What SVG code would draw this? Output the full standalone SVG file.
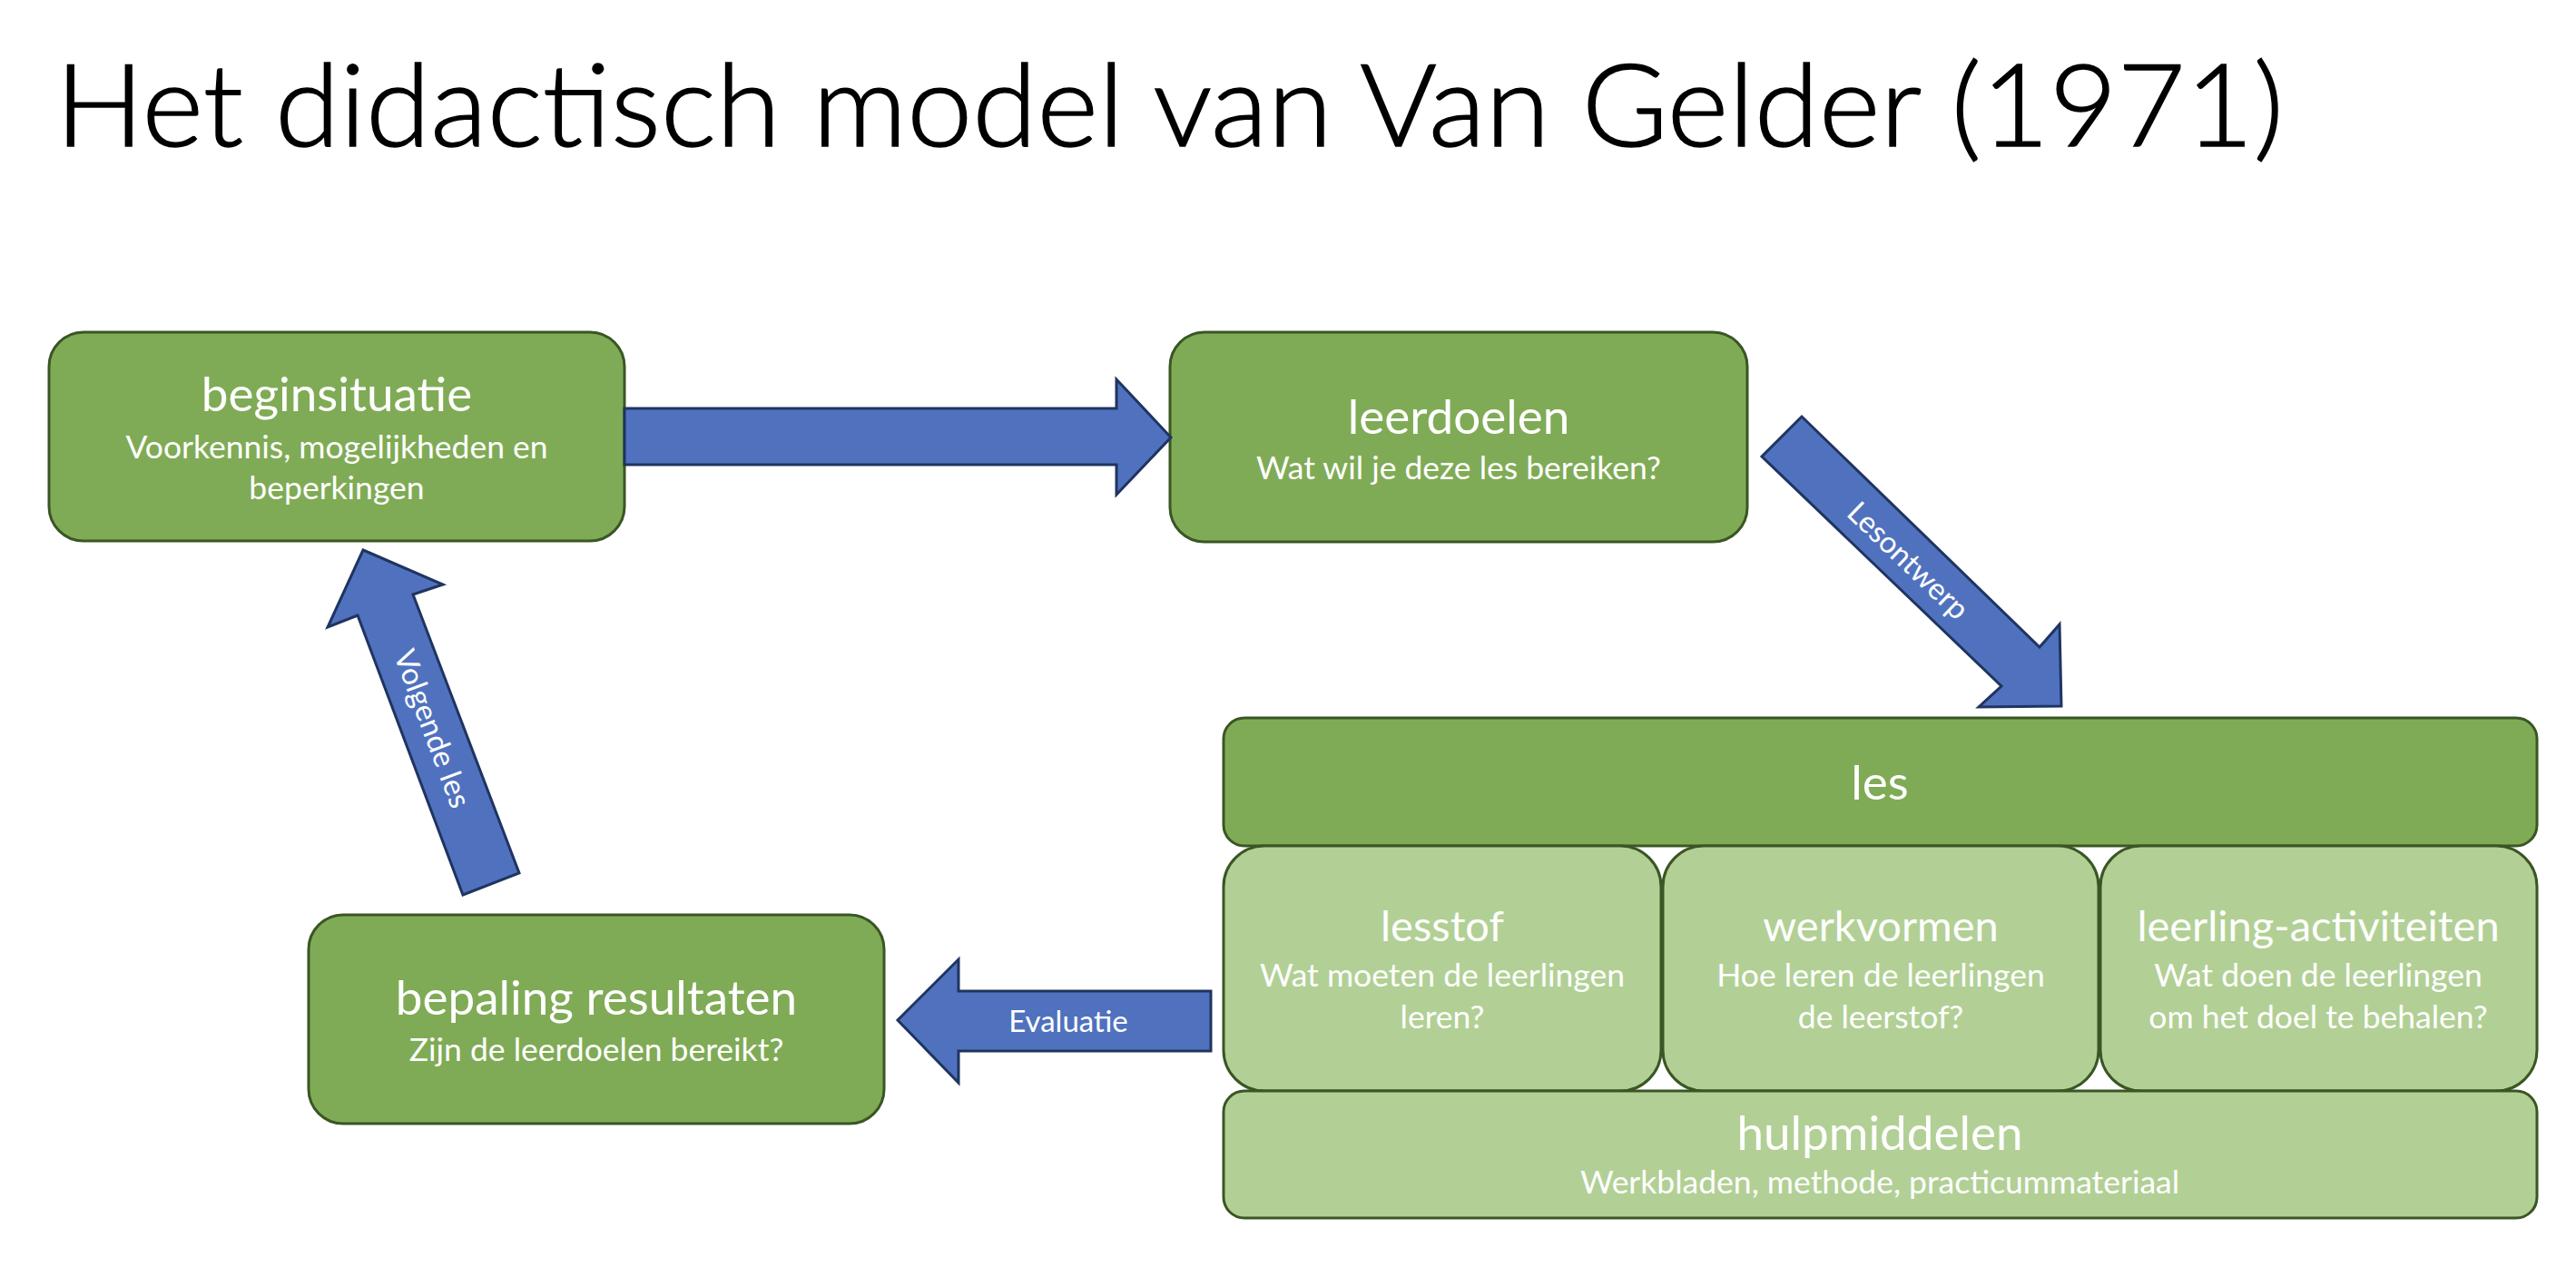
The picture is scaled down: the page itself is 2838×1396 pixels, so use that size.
<svg xmlns="http://www.w3.org/2000/svg" width="2838" height="1396" viewBox="0 0 2838 1396">
<style>
.dark{fill:#80AB56;stroke:#3A5624;stroke-width:3}
.light{fill:#B2D095;stroke:#3A5624;stroke-width:3}
.arrow{fill:#5072BE;stroke:#1F3460;stroke-width:3;stroke-linejoin:miter}
text{font-family:Lato,"Open Sans","Liberation Sans",sans-serif;fill:#FFFFFF;text-anchor:middle}
.title{fill:#000000;stroke:#000000;stroke-width:1.5;font-weight:300;font-size:126px;text-anchor:start}
.h1{font-size:53px}
.h2{font-size:47px}
.sub{font-size:35.5px}
.lbl{font-size:33px}
</style>
<rect width="2838" height="1396" fill="#FFFFFF"/>
<text class="title" x="61" y="161" textLength="2455" lengthAdjust="spacingAndGlyphs">Het didactisch model van Van Gelder (1971)</text>

<g id="beginsituatie">
<rect class="dark" x="54" y="366" width="634" height="230" rx="38" ry="38"/>
<text class="h1" x="371" y="453">beginsituatie</text>
<text class="sub" x="371" y="505">Voorkennis, mogelijkheden en</text>
<text class="sub" x="371" y="550">beperkingen</text>
</g>

<g id="leerdoelen">
<rect class="dark" x="1289" y="366" width="636" height="231" rx="38" ry="38"/>
<text class="h1" x="1607" y="478">leerdoelen</text>
<text class="sub" x="1607" y="528">Wat wil je deze les bereiken?</text>
</g>

<g id="bepaling-resultaten">
<rect class="dark" x="340" y="1008" width="634" height="230" rx="38" ry="38"/>
<text class="h1" x="657" y="1118">bepaling resultaten</text>
<text class="sub" x="657" y="1169">Zijn de leerdoelen bereikt?</text>
</g>

<g id="les">
<rect class="dark" x="1348" y="791" width="1447" height="141" rx="23" ry="23"/>
<text class="h1" x="2071" y="881">les</text>
</g>

<g id="lesstof">
<rect class="light" x="1348" y="932" width="482" height="270" rx="45" ry="45"/>
<text class="h2" x="1589" y="1037">lesstof</text>
<text class="sub" x="1589" y="1087">Wat moeten de leerlingen</text>
<text class="sub" x="1589" y="1133">leren?</text>
</g>

<g id="werkvormen">
<rect class="light" x="1832" y="932" width="480" height="270" rx="45" ry="45"/>
<text class="h2" x="2072" y="1037">werkvormen</text>
<text class="sub" x="2072" y="1087">Hoe leren de leerlingen</text>
<text class="sub" x="2072" y="1133">de leerstof?</text>
</g>

<g id="leerling-activiteiten">
<rect class="light" x="2314" y="932" width="481" height="270" rx="45" ry="45"/>
<text class="h2" x="2554" y="1037">leerling-activiteiten</text>
<text class="sub" x="2554" y="1087">Wat doen de leerlingen</text>
<text class="sub" x="2554" y="1133">om het doel te behalen?</text>
</g>

<g id="hulpmiddelen">
<rect class="light" x="1348" y="1202" width="1447" height="140" rx="23" ry="23"/>
<text class="h1" x="2071" y="1267">hulpmiddelen</text>
<text class="sub" x="2071" y="1315">Werkbladen, methode, practicummateriaal</text>
</g>

<g id="connectors">
<g id="arrow-begin-leerdoelen">
<polygon class="arrow" points="688,450 1230,450 1230,418 1290,482 1230,545 1230,512 688,512"/>
</g>
<g id="arrow-lesontwerp">
<polygon class="arrow" points="1985,459 2247,713 2269,688 2271,778 2180,779 2205,756 1941,503"/>
<text class="lbl" transform="translate(2102,618) rotate(43.8)" y="11">Lesontwerp</text>
</g>
<g id="arrow-evaluatie">
<polygon class="arrow" points="1334,1092 1056,1092 1056,1057 989,1124 1056,1193 1056,1158 1334,1158"/>
<text class="lbl" x="1177" y="1137">Evaluatie</text>
</g>
<g id="arrow-volgende-les">
<polygon class="arrow" points="400,606 488,644 455,655 572,962 510,986 394,678 361,691"/>
<text class="lbl" transform="translate(476,803) rotate(69.4)" y="11">Volgende les</text>
</g>
</g>
</svg>
